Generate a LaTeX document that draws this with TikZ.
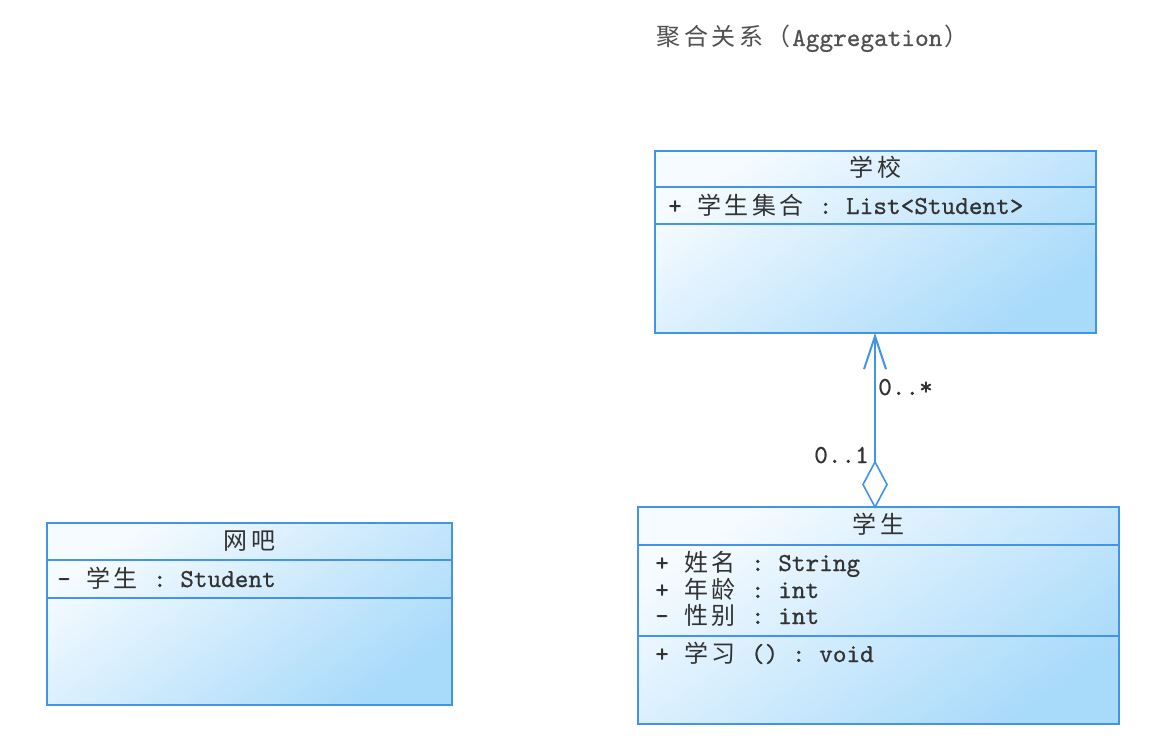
\documentclass[tikz,border=0pt]{standalone}
\usepackage{fontspec}
\setmonofont{lmmono10-regular.otf}[FakeBold=0.6]
\newfontfamily\cjkf{Noto Sans CJK SC}
\usetikzlibrary{arrows.meta,shadings,shapes.geometric}
\newcommand\zc[1]{\makebox[27.4pt]{\cjkf\fontsize{24}{26}\selectfont #1}}
\definecolor{umlborder}{RGB}{66,148,232}
\definecolor{umltop}{RGB}{246,251,255}
\definecolor{umlbot}{RGB}{168,218,250}
\definecolor{umltext}{RGB}{50,50,50}
\definecolor{titletext}{RGB}{80,80,80}
\tikzset{
  cls/.style={draw=umlborder, line width=1.6pt, rectangle, inner sep=0pt, outer sep=0pt,
    anchor=north west, top color=umltop, bottom color=umlbot, shading angle=35},
  sep/.style={draw=umlborder, line width=1.6pt},
  txt/.style={inner sep=0pt, text=umltext, font=\ttfamily\fontsize{26}{28}\selectfont},
  aggdiamond/.style={diamond, draw=umlborder, line width=1.6pt, fill=white, inner sep=0pt,
    outer sep=0pt, minimum width=24pt, minimum height=45pt, anchor=south, aspect=0.53},
  assoc/.style={draw=umlborder, line width=2pt,
    -{Straight Barb[length=33pt,width=22pt]}},
}
\begin{document}
\begin{tikzpicture}[x=1pt,y=-1pt]
\useasboundingbox (0,0) rectangle (1175,749);
\fill[white] (0,0) rectangle (1175,749);

% title
\node[txt, text=titletext, anchor=base west] (title) at (655,46)
  {\zc{聚}\zc{合}\zc{关}\zc{系}\zc{（}Aggregation\zc{）}};

% School
\node[cls, minimum width=441pt, minimum height=182pt] (school) at (655,151) {};
\draw[sep] (school.west |- 0,187) -- (school.east |- 0,187);
\draw[sep] (school.west |- 0,224) -- (school.east |- 0,224);
\node[txt, anchor=base] (schoolname) at (875.5,176) {\zc{学}\zc{校}};
\node[txt, anchor=base west] (schoolattr) at (668,214) {+ \zc{学}\zc{生}\zc{集}\zc{合} : List<Student>};

% Student
\node[cls, minimum width=481pt, minimum height=217pt] (student) at (638,507) {};
\draw[sep] (student.west |- 0,545) -- (student.east |- 0,545);
\draw[sep] (student.west |- 0,636) -- (student.east |- 0,636);
\node[txt, anchor=base] (studentname) at (878.5,533) {\zc{学}\zc{生}};
\node[txt, anchor=base west] (sa1) at (655,571) {+ \zc{姓}\zc{名} : String};
\node[txt, anchor=base west] (sa2) at (655,598) {+ \zc{年}\zc{龄} : int};
\node[txt, anchor=base west] (sa3) at (655,624) {- \zc{性}\zc{别} : int};
\node[txt, anchor=base west] (sm1) at (655,662) {+ \zc{学}\zc{习} () : void};

% Internet bar
\node[cls, minimum width=405pt, minimum height=182pt] (bar) at (47,523) {};
\draw[sep] (bar.west |- 0,560) -- (bar.east |- 0,560);
\draw[sep] (bar.west |- 0,598) -- (bar.east |- 0,598);
\node[txt, anchor=base] (barname) at (249.5,549) {\zc{网}\zc{吧}};
\node[txt, anchor=base west] (barattr) at (57,587) {- \zc{学}\zc{生} : Student};

% aggregation
\node[aggdiamond] (dia) at (875,507) {};
\draw[assoc] (dia.north) -- (dia.north |- school.south);
\node[txt, anchor=base west] (mstar) at (878,395) {0..*};
\node[txt, anchor=base east] (mone) at (869,463) {0..1};
\end{tikzpicture}
\end{document}
